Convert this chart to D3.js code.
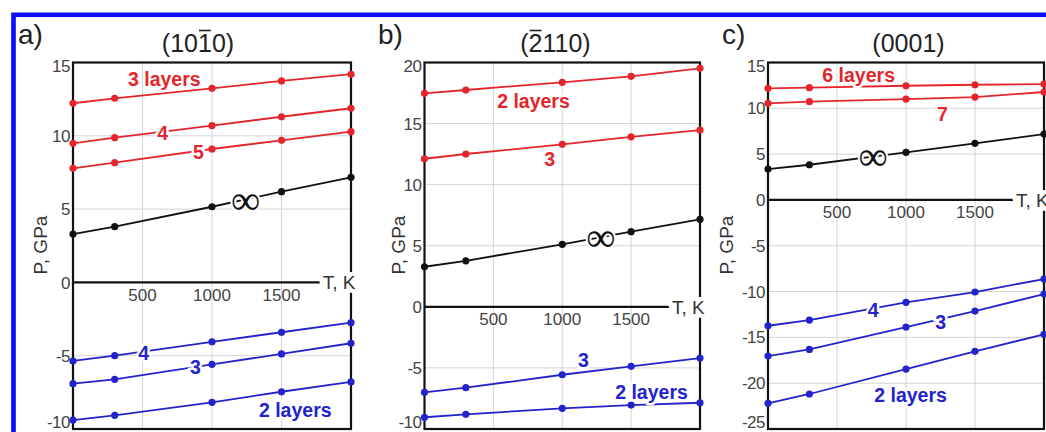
<!DOCTYPE html>
<html>
<head>
<meta charset="utf-8">
<script src="https://cdn.jsdelivr.net/npm/d3@7"></script>
<style>
  html, body { margin: 0; padding: 0; background: #fff; }
  svg { display: block; font-family: "Liberation Sans", Arial, sans-serif; }
</style>
</head>
<body>
<div id="chart"></div>
<script>
// temperatures of the computed points, K
const temps = [0, 300, 1000, 1500, 2000];
const xTicks = [500, 1000, 1500];

// a) (10-10) surface, pressure in GPa
const aRed3 = [12.22, 12.56, 13.24, 13.74, 14.2];
const aRed4 = [9.49, 9.87, 10.69, 11.3, 11.88];
const aRed5 = [7.78, 8.17, 9.1, 9.69, 10.28];
const aInf = [3.3, 3.8, 5.16, 6.19, 7.17];
const aBlue4 = [-5.36, -5.0, -4.05, -3.4, -2.75];
const aBlue3 = [-6.91, -6.61, -5.59, -4.88, -4.15];
const aBlue2 = [-9.39, -9.07, -8.18, -7.46, -6.79];
const aYTicks = [15, 10, 5, 0, -5, -10];

// b) (-2110) surface
const bRed2 = [17.48, 17.75, 18.38, 18.87, 19.52];
const bRed3 = [12.12, 12.51, 13.3, 13.92, 14.47];
const bInf = [3.28, 3.77, 5.12, 6.15, 7.16];
const bBlue3 = [-7.0, -6.62, -5.56, -4.87, -4.19];
const bBlue2 = [-9.04, -8.8, -8.31, -8.04, -7.85];
const bYTicks = [20, 15, 10, 5, 0, -5, -10];

// c) (0001) surface
const cRed6 = [12.18, 12.25, 12.46, 12.57, 12.65];
const cRed7 = [10.54, 10.72, 11.01, 11.23, 11.78];
const cInf = [3.37, 3.84, 5.2, 6.18, 7.19];
const cBlue4 = [-13.73, -13.11, -11.18, -10.05, -8.63];
const cBlue3 = [-17.04, -16.31, -13.87, -12.13, -10.27];
const cBlue2 = [-22.2, -21.18, -18.46, -16.52, -14.67];
const cYTicks = [15, 10, 5, 0, -5, -10, -15, -20, -25];

const RED = "#e4262c", BLUE = "#2323cc", BLACK = "#111";

const panels = [
  {
    letter: "a)", title: "(1010)", bar: 3, x0: 73, x1: 351, yDomain: [-10, 15], yTicks: aYTicks,
    series: [
      { v: aRed3, c: RED }, { v: aRed4, c: RED }, { v: aRed5, c: RED }, { v: aInf, c: BLACK },
      { v: aBlue4, c: BLUE }, { v: aBlue3, c: BLUE }, { v: aBlue2, c: BLUE }
    ],
    labels: [
      { t: "3 layers", T: 657, P: 13.9, c: RED }, { t: "4", T: 646, P: 10.19, c: RED },
      { t: "5", T: 903, P: 8.92, c: RED }, { t: "4", T: 509, P: -4.84, c: BLUE },
      { t: "3", T: 881, P: -5.8, c: BLUE }, { t: "2 layers", T: 1599, P: -8.7, c: BLUE }
    ],
    inf: { T: 1242, P: 5.6 }
  },
  {
    letter: "b)", title: "(2110)", bar: 1, x0: 424.5, x1: 700, yDomain: [-10, 20], yTicks: bYTicks,
    series: [
      { v: bRed2, c: RED }, { v: bRed3, c: RED }, { v: bInf, c: BLACK },
      { v: bBlue3, c: BLUE }, { v: bBlue2, c: BLUE }
    ],
    labels: [
      { t: "2 layers", T: 791, P: 16.85, c: RED }, { t: "3", T: 909, P: 12.14, c: RED },
      { t: "3", T: 1154, P: -4.35, c: BLUE }, { t: "2 layers", T: 1648, P: -6.93, c: BLUE }
    ],
    inf: { T: 1281, P: 5.66 }
  },
  {
    letter: "c)", title: "(0001)", bar: -1, x0: 768, x1: 1044, yDomain: [-25, 15], yTicks: cYTicks,
    series: [
      { v: cRed6, c: RED }, { v: cRed7, c: RED }, { v: cInf, c: BLACK },
      { v: cBlue4, c: BLUE }, { v: cBlue3, c: BLUE }, { v: cBlue2, c: BLUE }
    ],
    labels: [
      { t: "6 layers", T: 657, P: 13.63, c: RED }, { t: "7", T: 1264, P: 9.43, c: RED },
      { t: "4", T: 763, P: -12.02, c: BLUE }, { t: "3", T: 1252, P: -13.29, c: BLUE },
      { t: "2 layers", T: 1033, P: -21.24, c: BLUE }
    ],
    inf: { T: 761, P: 4.71 }
  }
];

const W = 1046, H = 432, plotTop = 62.5, plotBottom = 429;

const svg = d3.select("#chart").append("svg").attr("width", W).attr("height", H);

// blue frame around the figure
svg.append("rect")
  .attr("x", 13.5).attr("y", 14.8).attr("width", W + 40).attr("height", H + 40)
  .attr("fill", "none").attr("stroke", "#0b0bff").attr("stroke-width", 4.6);

panels.forEach((p, pi) => {
  const x = d3.scaleLinear().domain([0, 2000]).range([p.x0, p.x1]);
  const y = d3.scaleLinear().domain(p.yDomain).range([plotBottom, plotTop]);
  const g = svg.append("g");

  // grid
  g.selectAll(".gx").data(xTicks).enter().append("line")
    .attr("x1", d => x(d)).attr("x2", d => x(d)).attr("y1", plotTop).attr("y2", plotBottom)
    .attr("stroke", "#d4d4d4").attr("stroke-width", 1);
  g.selectAll(".gy").data(p.yTicks.filter(d => d !== 0)).enter().append("line")
    .attr("x1", p.x0).attr("x2", p.x1).attr("y1", d => y(d)).attr("y2", d => y(d))
    .attr("stroke", "#d4d4d4").attr("stroke-width", 1);

  // frame
  g.append("rect")
    .attr("x", p.x0).attr("y", plotTop).attr("width", p.x1 - p.x0).attr("height", plotBottom - plotTop)
    .attr("fill", "none").attr("stroke", "#111").attr("stroke-width", 2.2);

  // T axis at P = 0
  g.append("line")
    .attr("x1", p.x0).attr("x2", x(1775)).attr("y1", y(0)).attr("y2", y(0))
    .attr("stroke", "#111").attr("stroke-width", 2.2);

  g.append("text").text("T, K")
    .attr("x", x(1775) + 3).attr("y", y(0)).attr("dy", "0.36em")
    .attr("font-size", 19).attr("fill", "#333")
    .attr("stroke", "#fff").attr("stroke-width", 8).attr("paint-order", "stroke");

  // tick labels
  g.selectAll(".xt").data(xTicks).enter().append("text")
    .attr("x", d => x(d)).attr("y", y(0) + 12).attr("dy", "0.36em")
    .attr("text-anchor", "middle").attr("font-size", 17).attr("fill", "#444")
    .text(d => d);
  g.selectAll(".yt").data(p.yTicks).enter().append("text")
    .attr("x", p.x0 - 3)
    .attr("y", d => Math.max(plotTop + 3, Math.min(plotBottom - 7, y(d))))
    .attr("dy", "0.36em")
    .attr("text-anchor", "end").attr("font-size", 17).attr("fill", "#444")
    .attr("letter-spacing", -0.5)
    .text(d => d);

  // axis title
  const yl = [40, 398, 726][pi];
  g.append("text").text("P, GPa")
    .attr("transform", `translate(${yl},245) rotate(-90)`)
    .attr("dy", "0.36em").attr("text-anchor", "middle")
    .attr("font-size", 19).attr("fill", "#333");

  // lines and points
  const line = d3.line().x((d, i) => x(temps[i])).y(d => y(d));
  p.series.forEach(s => {
    g.append("path").datum(s.v).attr("d", line)
      .attr("fill", "none").attr("stroke", s.c).attr("stroke-width", 1.8);
    g.selectAll(null).data(s.v).enter().append("circle")
      .attr("cx", (d, i) => x(temps[i])).attr("cy", d => y(d)).attr("r", 3.6)
      .attr("fill", s.c);
  });

  // series labels
  g.selectAll(".lab").data(p.labels).enter().append("text")
    .attr("x", d => x(d.T)).attr("y", d => y(d.P)).attr("dy", "0.36em")
    .attr("text-anchor", "middle").attr("font-size", 19.5).attr("font-weight", "bold")
    .attr("fill", d => d.c)
    .attr("stroke", "#fff").attr("stroke-width", 5).attr("paint-order", "stroke")
    .text(d => d.t);

  g.append("text").text("\u221e")
    .attr("x", x(p.inf.T)).attr("y", y(p.inf.P)).attr("dy", "0.33em")
    .attr("text-anchor", "middle").attr("font-size", 41).attr("fill", "#111")
    .attr("font-family", "Noto Sans").attr("font-weight", 300)
    .attr("stroke", "#fff").attr("stroke-width", 4).attr("paint-order", "stroke");

  // panel letter and surface title
  g.append("text").text(p.letter)
    .attr("x", [18, 378, 722][pi]).attr("y", 43.5)
    .attr("font-size", 28).attr("fill", "#222");

  const tt = g.append("text").text(p.title)
    .attr("x", [198, 555.5, 908.5][pi]).attr("y", 51.7)
    .attr("text-anchor", "middle").attr("font-size", 25).attr("fill", "#222");
  if (p.bar >= 0) {
    const n = tt.node();
    const s0 = n.getStartPositionOfChar(p.bar).x;
    const s1 = n.getEndPositionOfChar(p.bar).x;
    g.append("line")
      .attr("x1", s0 + 1).attr("x2", s1 - 1).attr("y1", 30.5).attr("y2", 30.5)
      .attr("stroke", "#222").attr("stroke-width", 1.6);
  }
});
</script>
</body>
</html>
